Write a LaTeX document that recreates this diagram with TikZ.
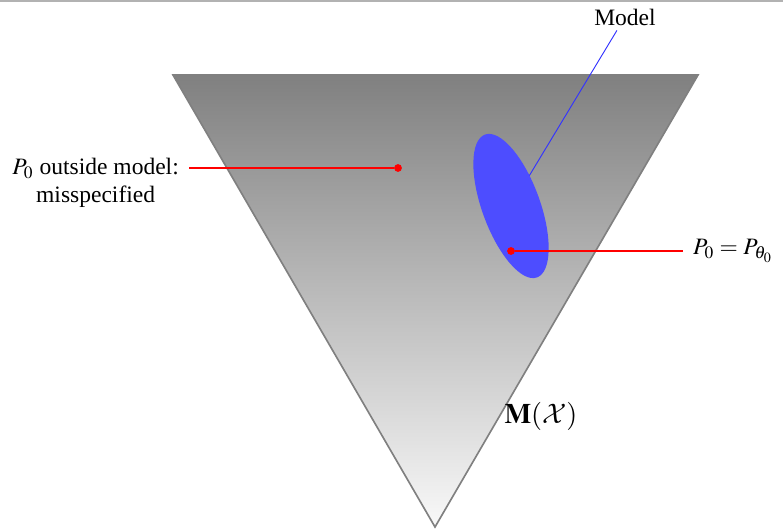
\documentclass[tikz,border=0pt]{standalone}
\usepackage{mathptmx}
\usepackage{fontspec}
\setmainfont{Liberation Serif}
\DeclareMathAlphabet{\mathcal}{OMS}{cmsy}{m}{n}
\usetikzlibrary{calc}
\definecolor{region}{HTML}{4D4DFF}
\definecolor{rim}{HTML}{808080}

\begin{document}
\begin{tikzpicture}[x=0.425pt,y=0.425pt,
  dot/.style={circle,fill=red,inner sep=0pt,minimum size=3.3pt},
  lbl/.style={inner sep=2pt,align=center},
  pointer/.style={red,line width=0.5pt}]
\useasboundingbox (0,0) rectangle (783,530);
\fill[gray!60] (0,527.5) rectangle (783,530);
\shade[top color=rim,bottom color=gray!5,draw=rim,line width=0.7pt] (173,455) -- (698,455) -- (435,3) -- cycle;
\node[lbl] (mlab) at (625,513) {Model};
\coordinate (mc) at (511,324);
\draw[blue!80] (mc) -- (mlab);
\fill[region,rotate around={20:(mc)}] (mc) ellipse [x radius=29,y radius=76];
\node[dot] (ptrue) at (511,279) {};
\node[dot] (pmis) at (398,362) {};
\node[lbl,anchor=west] (ltrue) at (688,279) {$P_0=P_{\theta_0}$};
\node[lbl,anchor=east] (lmis) at (184,347) {$P_0$ outside model:\\misspecified};
\node[font=\large] (space) at (541,114) {$\mathbf{M}(\mathcal{X})$};
\draw[pointer] (ptrue) -- ([xshift=-2pt]ltrue.west);
\draw[pointer] (pmis) -- ([xshift=2pt]pmis -| lmis.east);
\end{tikzpicture}
\end{document}
